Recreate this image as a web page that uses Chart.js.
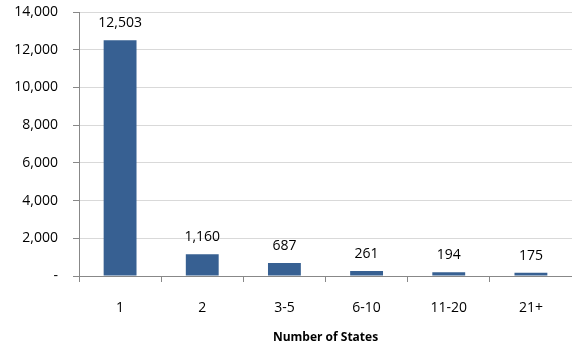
<!DOCTYPE html>
<html>
<head>
<meta charset="utf-8">
<script src="https://cdn.jsdelivr.net/npm/chart.js@4/dist/chart.umd.min.js"></script>
<style>
  html, body { margin: 0; padding: 0; background: #ffffff; }
  #wrap { width: 572px; height: 347px; position: relative; }
</style>
</head>
<body>
<div id="wrap"><canvas id="chart" width="572" height="347"></canvas></div>
<script>
// Number of companies by how many states they operate in
const categories = ['1', '2', '3-5', '6-10', '11-20', '21+'];
const counts = [12503, 1160, 687, 261, 194, 175];
const yTicks = [0, 2000, 4000, 6000, 8000, 10000, 12000, 14000];

const FONT = '"Open Sans", "Liberation Sans", sans-serif';
const fmt = v => v === 0 ? '-' : v.toLocaleString('en-US');

// Writes each bar's value just above it
const valueLabels = {
  id: 'valueLabels',
  afterDatasetsDraw(chart) {
    const ctx = chart.ctx;
    const meta = chart.getDatasetMeta(0);
    ctx.save();
    ctx.font = '14px ' + FONT;
    ctx.fillStyle = '#000000';
    ctx.textAlign = 'center';
    ctx.textBaseline = 'middle';
    meta.data.forEach((bar, i) => {
      ctx.fillText(fmt(counts[i]), bar.x, bar.y - 17);
    });
    ctx.restore();
  }
};

new Chart(document.getElementById('chart'), {
  type: 'bar',
  data: {
    labels: categories,
    datasets: [{
      data: counts,
      backgroundColor: '#376092',
      borderWidth: 0,
      barPercentage: 0.4,
      categoryPercentage: 1.0
    }]
  },
  options: {
    responsive: false,
    animation: false,
    layout: { padding: { top: 12, right: 0, bottom: 2, left: 0 } },
    plugins: {
      legend: { display: false },
      tooltip: { enabled: false }
    },
    scales: {
      x: {
        offset: true,
        grid: {
          offset: true,
          drawOnChartArea: false,
          drawTicks: true,
          tickLength: 6,
          tickColor: '#888888'
        },
        border: { color: '#888888', width: 1 },
        ticks: {
          color: '#000000',
          padding: 18,
          font: { family: FONT, size: 14 }
        },
        title: {
          display: true,
          text: 'Number of States',
          color: '#000000',
          font: { family: FONT, size: 12, weight: 'bold' },
          padding: { top: 8, bottom: 0 }
        },
        afterFit(scale) { scale.height = 69; }
      },
      y: {
        min: 0,
        max: 14000,
        afterBuildTicks(scale) { scale.ticks = yTicks.map(v => ({ value: v })); },
        grid: {
          color: '#D9D9D9',
          tickColor: '#888888',
          tickLength: 6,
          drawTicks: true
        },
        border: { color: '#888888', width: 1 },
        ticks: {
          color: '#000000',
          padding: 15,
          font: { family: FONT, size: 14 },
          callback: v => fmt(v)
        },
        afterFit(scale) {
          scale.width = 79;
          scale.paddingTop = 0;
          scale.paddingBottom = 0;
        }
      }
    }
  },
  plugins: [valueLabels]
});
</script>
</body>
</html>
